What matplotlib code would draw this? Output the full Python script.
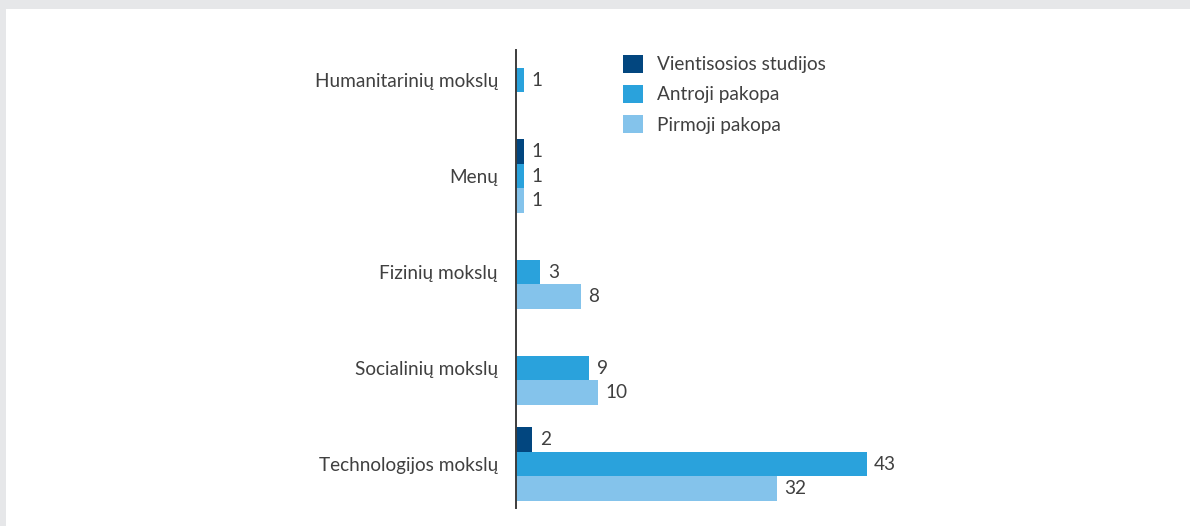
import matplotlib.pyplot as plt
from matplotlib.patches import Rectangle, Patch

# 数据
categories = ['Humanitarinių mokslų', 'Menų', 'Fizinių mokslų',
              'Socialinių mokslų', 'Technologijos mokslų']
series_names = ['Vientisosios studijos', 'Antroji pakopa', 'Pirmoji pakopa']
vientisosios = [0, 1, 0, 0, 2]
antroji = [1, 1, 3, 9, 43]
pirmoji = [0, 1, 8, 10, 32]

colors = ['#02467f', '#2aa2dc', '#84c3eb']
text_color = '#404040'
fs = 13.7

plt.rcParams['font.family'] = ['Lato', 'DejaVu Sans']

fig = plt.figure(figsize=(11.9, 5.26), dpi=100)
fig.patch.set_facecolor('#e6e7e9')
# 白色面板
fig.patches.append(Rectangle((6 / 1190, 0), 1 - 6 / 1190, 1 - 9 / 526,
                             transform=fig.transFigure, facecolor='white',
                             edgecolor='none', zorder=-5))

ax = fig.add_axes([516 / 1190, 18 / 526, 664 / 1190, 458 / 526])
ax.set_facecolor('none')

bar_h = 0.255
series = [vientisosios, antroji, pirmoji]
for j, vals in enumerate(series):
    for i, v in enumerate(vals):
        if not v:
            continue
        y = i + (j - 1) * bar_h
        ax.barh(y, v, height=bar_h, color=colors[j], linewidth=0)
        ax.text(v + 0.9, y, str(v), va='center', ha='left',
                fontsize=fs, color=text_color)

ax.set_xlim(0, 664 / 8.16)
ax.set_ylim((508 - 80) / 96, -30 / 96)
ax.set_yticks(range(len(categories)))
ax.set_yticklabels(categories, fontsize=fs, color=text_color)
ax.tick_params(axis='y', length=0, pad=13)
ax.set_xticks([])
for s in ['top', 'right', 'bottom']:
    ax.spines[s].set_visible(False)
ax.spines['left'].set_color('#3c3c3c')
ax.spines['left'].set_linewidth(1.4)

handles = [Patch(facecolor=c, edgecolor='none') for c in colors]
leg = fig.legend(handles, series_names, loc='upper left',
                 bbox_to_anchor=(623 / 1190, 1 - 55 / 526), frameon=False,
                 fontsize=fs, handlelength=1.05, handleheight=1.05,
                 handletextpad=0.75, labelspacing=0.62, borderpad=0,
                 borderaxespad=0)
for t in leg.get_texts():
    t.set_color(text_color)

fig.savefig('out.png', dpi=100)
